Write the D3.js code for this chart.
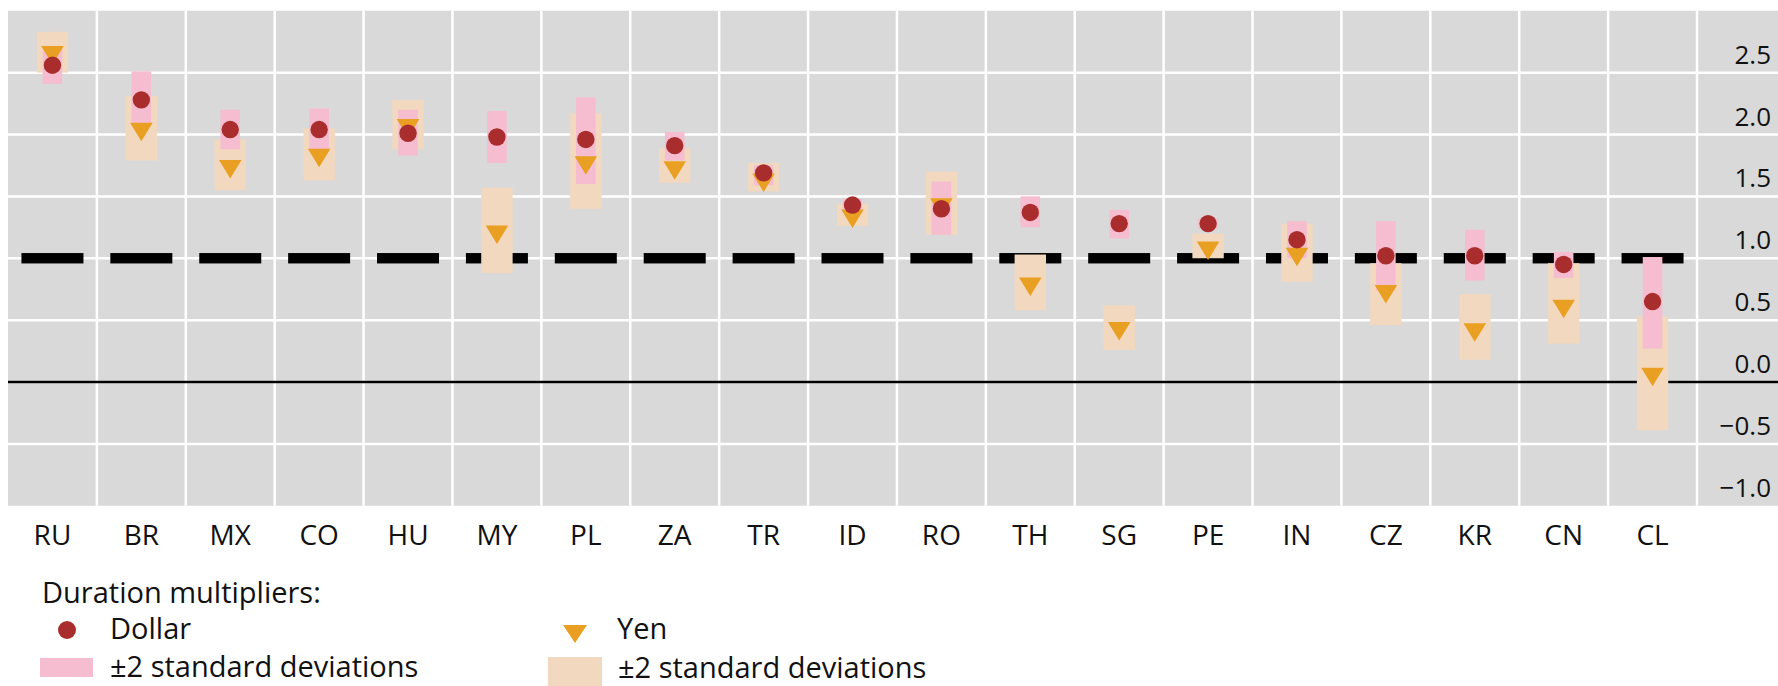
<!DOCTYPE html>
<html>
<head>
<meta charset="utf-8">
<script src="https://cdn.jsdelivr.net/npm/d3@7"></script>
<style>
  body { margin: 0; background: #fff; }
  svg text { font-family: "Open Sans", "Noto Sans", sans-serif; fill: #111; }
</style>
</head>
<body>
<div id="graph"></div>
<script>
var countries = ["RU", "BR", "MX", "CO", "HU", "MY", "PL", "ZA", "TR", "ID", "RO", "TH", "SG", "PE", "IN", "CZ", "KR", "CN", "CL"];

// dollar duration multiplier and its +-2 sd band
var dollar   = [2.56, 2.28, 2.04, 2.04, 2.01, 1.98, 1.96, 1.91, 1.69, 1.43, 1.40, 1.37, 1.28, 1.28, 1.15, 1.02, 1.02, 0.95, 0.65];
var dollarLo = [2.41, 2.09, 1.88, 1.88, 1.83, 1.77, 1.60, 1.79, 1.59, 1.38, 1.19, 1.25, 1.16, 1.24, 1.00, 0.74, 0.82, 0.84, 0.27];
var dollarHi = [2.71, 2.51, 2.20, 2.21, 2.20, 2.19, 2.30, 2.02, 1.75, 1.48, 1.62, 1.50, 1.39, 1.32, 1.30, 1.30, 1.23, 1.05, 1.01];

// yen duration multiplier and its +-2 sd band
var yen   = [2.64, 2.02, 1.72, 1.81, 2.05, 1.19, 1.75, 1.71, 1.61, 1.32, 1.41, 0.77, 0.41, 1.06, 1.01, 0.71, 0.40, 0.59, 0.04];
var yenLo = [2.50, 1.79, 1.55, 1.63, 1.88, 0.88, 1.40, 1.61, 1.54, 1.26, 1.19, 0.58, 0.26, 1.00, 0.81, 0.46, 0.18, 0.31, -0.39];
var yenHi = [2.83, 2.31, 1.96, 2.05, 2.28, 1.57, 2.17, 1.89, 1.77, 1.44, 1.70, 1.03, 0.62, 1.20, 1.28, 0.96, 0.71, 0.96, 0.53];

var yTicks = [-1.0, -0.5, 0.0, 0.5, 1.0, 1.5, 2.0, 2.5];
var refLine = 1.0;

var pink = "#f5bdcf";
var peach = "#f2d8bf";
var dotColor = "#a92d2d";
var triColor = "#e9a022";

var width = 1778, height = 686;

var rows = countries.map(function(c, i) {
  return { c: c, d: dollar[i], dlo: dollarLo[i], dhi: dollarHi[i], y: yen[i], ylo: yenLo[i], yhi: yenHi[i] };
});

var svg = d3.select("#graph").append("svg")
  .attr("width", width)
  .attr("height", height);

var x = d3.scaleBand().domain(countries).range([8, 1697]).padding(0);
var y = d3.scaleLinear().domain([-1, 3]).range([505.75, 10.75]);
var fmt = d3.format(".1f");

// background panel (runs under the axis labels too)
svg.append("rect")
  .attr("x", 8).attr("y", y(3))
  .attr("width", width - 8).attr("height", y(-1) - y(3))
  .attr("fill", "#d9d9d9");

// horizontal grid
svg.selectAll(".hgrid")
  .data(yTicks.filter(function(t) { return t > -1; }))
  .enter().append("line")
  .attr("class", "hgrid")
  .attr("x1", 8).attr("x2", width)
  .attr("y1", function(d) { return y(d); })
  .attr("y2", function(d) { return y(d); })
  .attr("stroke", "#fff").attr("stroke-width", 2.5);

// vertical grid between countries
svg.selectAll(".vgrid")
  .data(countries)
  .enter().append("line")
  .attr("class", "vgrid")
  .attr("x1", function(d) { return x(d) + x.bandwidth(); })
  .attr("x2", function(d) { return x(d) + x.bandwidth(); })
  .attr("y1", y(3)).attr("y2", y(-1))
  .attr("stroke", "#fff").attr("stroke-width", 2.5);

// zero line
svg.append("line")
  .attr("x1", 8).attr("x2", width)
  .attr("y1", y(0)).attr("y2", y(0))
  .attr("stroke", "#000").attr("stroke-width", 2.5);

// dashed reference at 1.0, one dash per country
svg.selectAll(".dash")
  .data(countries)
  .enter().append("rect")
  .attr("class", "dash")
  .attr("x", function(d) { return x(d) + x.bandwidth() / 2 - 31; })
  .attr("y", y(refLine) - 5.2)
  .attr("width", 62).attr("height", 10.4)
  .attr("fill", "#000");

// yen bands
svg.selectAll(".yband")
  .data(rows)
  .enter().append("rect")
  .attr("class", "yband")
  .attr("x", function(d) { return x(d.c) + x.bandwidth() / 2 - 15.7; })
  .attr("y", function(d) { return y(d.yhi); })
  .attr("width", 31.4)
  .attr("height", function(d) { return y(d.ylo) - y(d.yhi); })
  .attr("fill", peach);

// dollar bands
svg.selectAll(".dband")
  .data(rows)
  .enter().append("rect")
  .attr("class", "dband")
  .attr("x", function(d) { return x(d.c) + x.bandwidth() / 2 - 9.8; })
  .attr("y", function(d) { return y(d.dhi); })
  .attr("width", 19.6)
  .attr("height", function(d) { return y(d.dlo) - y(d.dhi); })
  .attr("fill", pink);

function tri(cx, cy, w, h) {
  return "M" + (cx - w / 2) + "," + (cy - h / 2) + "L" + (cx + w / 2) + "," + (cy - h / 2) + "L" + cx + "," + (cy + h / 2) + "Z";
}

// yen markers
svg.selectAll(".ymark")
  .data(rows)
  .enter().append("path")
  .attr("class", "ymark")
  .attr("d", function(d) { return tri(x(d.c) + x.bandwidth() / 2, y(d.y), 22.6, 18.5); })
  .attr("fill", triColor);

// dollar markers
svg.selectAll(".dmark")
  .data(rows)
  .enter().append("circle")
  .attr("class", "dmark")
  .attr("cx", function(d) { return x(d.c) + x.bandwidth() / 2; })
  .attr("cy", function(d) { return y(d.d); })
  .attr("r", 8.7)
  .attr("fill", dotColor);

// y labels sit just above their gridline
svg.selectAll(".ylab")
  .data(yTicks)
  .enter().append("text")
  .attr("class", "ylab")
  .attr("x", 1771)
  .attr("y", function(d) { return y(d) - 9; })
  .attr("text-anchor", "end")
  .style("font-size", "26px")
  .text(function(d) { return fmt(d); });

// x labels
var xAxis = svg.append("g")
  .attr("transform", "translate(0," + 517 + ")")
  .call(d3.axisBottom(x).tickSize(0).tickPadding(0));
xAxis.select(".domain").remove();
xAxis.selectAll("text")
  .attr("dy", 0).attr("y", 28)
  .style("font-size", "28px")
  .style("font-family", "Open Sans, Noto Sans, sans-serif")
  .attr("fill", "#111");

// legend
var leg = svg.append("g").style("font-size", "29px");
leg.append("text").attr("x", 42).attr("y", 603).text("Duration multipliers:");
leg.append("circle").attr("cx", 67).attr("cy", 630).attr("r", 9).attr("fill", dotColor);
leg.append("text").attr("x", 110).attr("y", 639).text("Dollar");
leg.append("rect").attr("x", 40).attr("y", 658).attr("width", 53).attr("height", 19).attr("fill", pink);
leg.append("text").attr("x", 110).attr("y", 677).text("±2 standard deviations");
leg.append("path").attr("d", tri(575, 634, 24, 18)).attr("fill", triColor);
leg.append("text").attr("x", 617).attr("y", 639).text("Yen");
leg.append("rect").attr("x", 548).attr("y", 657).attr("width", 54).attr("height", 29).attr("fill", peach);
leg.append("text").attr("x", 618).attr("y", 678).text("±2 standard deviations");
</script>
</body>
</html>
